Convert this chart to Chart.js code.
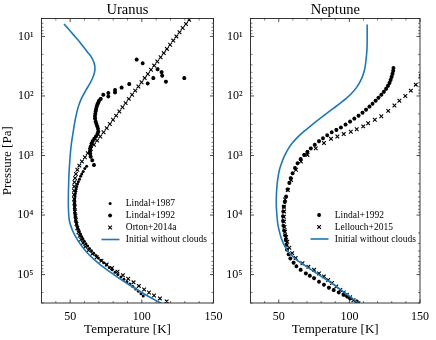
<!DOCTYPE html>
<html><head><meta charset="utf-8">
<script src="https://cdn.jsdelivr.net/npm/chart.js@4.4.0/dist/chart.umd.min.js"></script>
<style>
html,body{margin:0;padding:0;background:#fff;}
#wrap{position:relative;width:436px;height:340px;overflow:hidden;background:#fff;}
#c1{position:absolute;left:0;top:0;}
#c2{position:absolute;left:218px;top:0;}
</style></head><body>
<div id="wrap"><canvas id="c1" width="250" height="340"></canvas><canvas id="c2" width="218" height="340"></canvas></div>
<script>
// ---------- data (Temperature [K], Pressure [Pa]) ----------
const uranusModelT = [45.7,49.0,52.2,55.8,59.1,62.0,64.6,66.6,67.3,66.9,65.8,64.0,60.8,57.9,55.7,54.2,53.0,52.0,51.1,50.4,49.7,49.2,48.8,48.8,49.5,51.5,53.5,56.0,59.0,62.5,66.8,71.8,77.5,83.5,89.8,96.5,103.5,111.0,115.0];
const uranusModelP = [6.17,7.59,9.33,11.7,14.8,18.2,21.9,27.5,33.9,40.7,49,60.3,81.3,110,151,209,295,417,575,794,1259,1995,3981,7943,12589,17783,22387,28184,35481,44668,56234,70795,89125,112202,141254,177828,223872,281838,316228];

const uranusLindal87T = [61.5,60.2,59.1,58.1,57.3,56.5,55.7,55.1,54.6,54.2,53.9,53.6,53.4,53.2,53.1,53.0,53.0,53.0,53.1,53.2,53.4,53.6,53.9,54.2,54.6,55.1,55.7,56.4,57.2,58.0,58.9,59.9,61.0,62.2,63.5,64.9,66.4,68.0,69.7,71.5,73.4,75.3,77.3,79.3,81.3,83.3,85.4,87.5,89.6,91.7,93.7,95.7,97.6,99.4,101.0];
const uranusLindal87P = [1514,1660,1862,2042,2239,2512,2754,3020,3311,3631,3981,4365,4786,5248,5754,6310,6918,7586,8318,9120,10000,10965,12023,13183,14454,15849,17378,19055,20893,22909,25119,27542,30200,33113,36308,39811,43652,47863,52481,57544,63096,69183,75858,83176,91201,100000,109648,120226,131826,144544,158489,173780,190546,208930,229087];

const uranusLindal92T = [96.4,100.6,111.0,113.8,114.2,108.0,129.6,116.8,104.1,91.2,85.9,81.3,81.3,76.6,76.6,73.1,71.3,70.2,69.6,69.0,68.5,68.1,67.8,67.5,67.3,67.4,67.8,68.3,68.9,69.4,69.6,69.0,68.0,66.8,65.7,64.9,64.3,63.9,63.8,64.0,64.3,65.4,66.6];
const uranusLindal92P = [24.5,28.2,35.5,39.8,45.7,50.1,50.1,57.5,61.7,63.1,72.4,79.4,87.1,89.1,102,95.5,112,120,129,138,151,166,182,200,219,240,269,295,324,355,398,437,479,525,575,631,708,776,851,933,1047,1202,1445];

const uranusOrtonT = [133.0,130.8,128.5,126.3,124.1,121.9,119.7,117.5,115.3,113.1,110.8,108.6,106.4,104.2,102.0,99.8,97.6,95.4,93.2,90.9,88.7,86.5,84.3,82.1,79.9,77.7,75.5,73.3,71.0,68.8,66.6,64.4,62.3,60.3,58.2,56.4,55.0,54.0,53.4,53.0,52.8,52.7,52.7,52.8,53.0,53.2,53.4,53.7,54.0,54.4,55.0,55.8,56.6,57.6,58.9,60.5,62.8,65.5,68.5,71.8,75.5,79.2,83.0,86.8,90.5,94.2,97.9,101.6,105.0,108.5,112.6,117.3];
const uranusOrtonP = [5.25,6.17,7.24,8.51,10,11.75,13.8,16.2,19.05,22.4,26.3,30.9,36.3,42.7,50.1,58.9,69.2,81.3,95.5,112,132,155,182,214,251,295,347,407,479,562,661,776,912,1072,1259,1479,1738,2042,2399,2818,3311,3890,4571,5370,6310,7413,8710,10233,12023,14125,16596,19498,22387,25704,29512,33884,38905,44668,51286,58884,67608,77625,89125,102329,117490,134896,154882,177828,199526,223872,251189,281838];

const neptuneModelT = [112.6,112.6,112.5,112.0,111.0,109.6,107.6,105.0,101.8,97.8,93.6,88.6,83.0,77.0,72.2,67.6,63.4,59.6,56.4,53.8,52.0,50.5,49.4,48.7,48.3,48.3,48.7,49.4,50.5,51.8,53.8,56.4,61.5,68.0,75.0,82.0,89.0,95.9,101.0,106.4];
const neptuneModelP = [6.31,10,15.5,22.4,33.9,44.7,57.5,72.4,89.1,110,132,162,204,263,324,398,490,617,794,1047,1349,1738,2399,3311,5012,7244,10000,14454,19055,24547,31623,40738,53703,69183,89125,114815,147911,194984,239883,301995];

const neptuneLindal92T = [131.2,131.0,130.5,129.9,129.2,128.4,127.3,126.0,124.4,122.6,120.6,118.6,116.4,114.2,111.8,109.3,106.5,103.5,100.5,97.3,94.0,90.8,87.5,84.3,81.3,78.5,75.5,72.7,70.3,68.0,65.5,63.3,61.5,59.8,58.5,57.5,56.3,55.2,54.3,53.6,53.2,53.0,53.0,53.3,53.8,54.5,55.0,55.4,55.8,57.0,58.2,60.5,62.5,65.5,69.2,72.0,75.0,78.5,82.0,85.5,88.9,92.5,95.9,98.5,100.6,105.2];
const neptuneLindal92P = [33.9,38.0,42.7,47.9,53.7,60.3,67.6,75.9,85.1,95.5,107,120,135,151,170,191,214,240,269,302,339,372,407,457,513,575,661,759,871,977,1148,1349,1622,1995,2399,2884,3715,4898,6026,7244,8710,10471,12589,15136,18197,21878,26303,31623,38019,45709,53703,63096,72444,83176,95499,104713,114815,131826,147911,165959,181970,199526,218776,234423,251189,281838];

const neptuneLellouchT = [150.5,147.0,143.5,139.6,135.4,131.9,127.5,122.6,118.0,113.3,109.8,105.2,101.0,96.0,91.5,87.0,82.0,76.2,70.3,65.7,62.2,58.7,56.4,54.5,53.6,53.8,53.6,53.7,54.1,54.5,55.2,56.0,57.5,59.5,62.0,66.8,71.0,75.0,78.5,82.0,85.0,87.7,90.7,93.6,96.0,98.2,100.5,102.9,106.4];
const neptuneLellouchP = [46.8,64.6,81.3,100,120,145,178,219,251,288,324,363,398,437,479,525,617,759,977,1259,1738,2570,3802,5495,7244,8710,10715,12882,15849,19055,23442,28184,35481,43652,52481,64565,74131,83176,95499,107152,123027,138038,158489,181970,199526,218776,239883,269153,301995];

const xTicks = [50, 100, 150];
const xTickLabels = ['50', '100', '150'];
const yTicks = [10, 100, 1000, 10000, 100000];
const yTickLabels = ['10¹', '10²', '10³', '10⁴', '10⁵'];
const titles = ['Uranus', 'Neptune'];
const xTitle = 'Temperature [K]';
const yTitle = 'Pressure [Pa]';
const uranusLabels = ['Lindal+1987', 'Lindal+1992', 'Orton+2014a', 'Initial without clouds'];
const neptuneLabels = ['Lindal+1992', 'Lellouch+2015', 'Initial without clouds'];

// ---------- rendering ----------
const FONT = "'Liberation Serif', 'DejaVu Serif', serif";
Chart.defaults.font.family = FONT;
Chart.defaults.color = '#000';

function pts(T, P) { return T.map((t, i) => ({x: t, y: P[i]})); }

const STY = {
  line:  {showLine: true, pointRadius: 0, borderColor: '#1f77b4', borderWidth: 1.6, tension: 0.35, fill: false},
  dots:  {showLine: false, pointStyle: 'circle', pointRadius: 1.5, pointBackgroundColor: '#000', backgroundColor: '#000', pointBorderWidth: 0, borderColor: '#000'},
  stars: {showLine: false, pointStyle: 'star', pointRadius: 2.0, pointBorderColor: '#000', borderColor: '#000', pointBorderWidth: 1.2},
  cross: {showLine: false, pointStyle: 'crossRot', pointRadius: 2.6, pointBorderColor: '#000', borderColor: '#000', pointBorderWidth: 1.1}
};

const framePlugin = {
  id: 'frame',
  afterDraw(chart) {
    const {ctx, chartArea: a, scales: {x, y}} = chart;
    ctx.save();
    ctx.strokeStyle = '#222';
    ctx.lineWidth = 0.9;
    ctx.strokeRect(a.left, a.top, a.right - a.left, a.bottom - a.top);
    const tick = (len, vals, scale, horiz) => {
      ctx.beginPath();
      vals.forEach(v => {
        const p = scale.getPixelForValue(v);
        if (horiz) {
          ctx.moveTo(p, a.bottom); ctx.lineTo(p, a.bottom - len);
          ctx.moveTo(p, a.top); ctx.lineTo(p, a.top + len);
        } else {
          ctx.moveTo(a.left, p); ctx.lineTo(a.left + len, p);
          ctx.moveTo(a.right, p); ctx.lineTo(a.right - len, p);
        }
      });
      ctx.stroke();
    };
    const xMinor = [];
    for (let v = 40; v < 150; v += 10) if (!xTicks.includes(v)) xMinor.push(v);
    const yMinor = [];
    for (let e = 0; e <= 5; e++) for (let m = 2; m <= 9; m++) {
      const v = m * Math.pow(10, e);
      if (v >= y.min && v <= y.max) yMinor.push(v);
    }
    ctx.lineWidth = 0.8;
    tick(3.5, xTicks, x, true);
    tick(3.5, yTicks, y, false);
    ctx.lineWidth = 0.6;
    tick(2, xMinor, x, true);
    tick(2, yMinor, y, false);
    ctx.restore();
  }
};

const legendPlugin = {
  id: 'plotLegend',
  afterDraw(chart, args, o) {
    if (!o || !o.items) return;
    const {ctx, chartArea: a} = chart;
    ctx.save();
    ctx.font = '9.5px ' + FONT;
    ctx.textBaseline = 'middle';
    ctx.textAlign = 'left';
    o.items.forEach((idx, i) => {
      const ds = chart.data.datasets[idx];
      const yy = a.top + o.top + i * o.gap;
      if (ds.showLine) {
        ctx.strokeStyle = ds.borderColor; ctx.lineWidth = ds.borderWidth;
        ctx.beginPath(); ctx.moveTo(a.left + o.lineX0, yy); ctx.lineTo(a.left + o.lineX1, yy); ctx.stroke();
      } else {
        ctx.fillStyle = '#000'; ctx.strokeStyle = '#000'; ctx.lineWidth = ds.pointBorderWidth || 0;
        Chart.helpers.drawPoint(ctx, {pointStyle: ds.pointStyle, radius: ds.pointRadius, rotation: 0, borderWidth: ds.pointBorderWidth || 0}, a.left + o.markerX, yy);
      }
      ctx.fillStyle = '#000';
      ctx.fillText(ds.label, a.left + o.textX, yy);
    });
    ctx.restore();
  }
};

function makeChart(el, title, datasets, legendItems, legendTop, yWidth, padRight, showYTitle) {
  return new Chart(document.getElementById(el), {
    type: 'scatter',
    data: {datasets},
    plugins: [framePlugin, legendPlugin],
    options: {
      responsive: false, animation: false, devicePixelRatio: 1,
      layout: {padding: {left: 0, right: padRight, top: 0, bottom: 0}},
      plugins: {
        legend: {display: false}, tooltip: {enabled: false},
        title: {display: true, text: title, fullSize: false, color: '#000',
                font: {family: FONT, size: 14.5, weight: 'normal', lineHeight: 1.2},
                padding: {top: 1, bottom: 0.1}},
        plotLegend: {items: legendItems, top: legendTop, gap: 12, markerX: 68.6, textX: 84.3, lineX0: 60, lineX1: 78}
      },
      scales: {
        x: {
          type: 'linear', min: 30, max: 150,
          grid: {display: false, drawTicks: false}, border: {display: false},
          afterBuildTicks: s => { s.ticks = xTicks.map(v => ({value: v})); },
          afterFit: s => { s.height = 37; },
          ticks: {autoSkip: false, maxRotation: 0, padding: 7, color: '#000',
                  font: {family: FONT, size: 12}, callback: (v, i) => xTickLabels[i]},
          title: {display: true, text: xTitle, color: '#000', font: {family: FONT, size: 13}, padding: {top: 0, bottom: 2.7}}
        },
        y: {
          type: 'logarithmic', reverse: true, min: 5, max: 3e5,
          grid: {display: false, drawTicks: false}, border: {display: false},
          afterBuildTicks: s => { s.ticks = yTicks.map(v => ({value: v})); },
          afterFit: s => { s.width = yWidth; },
          ticks: {autoSkip: false, padding: 8, color: '#000',
                  font: {family: FONT, size: 12}, callback: (v, i) => yTickLabels[i]},
          title: {display: showYTitle, text: yTitle, color: '#000', font: {family: FONT, size: 13}, padding: {top: 0, bottom: 0}}
        }
      }
    }
  });
}

makeChart('c1', titles[0], [
  Object.assign({label: uranusLabels[3], data: pts(uranusModelT, uranusModelP)}, STY.line),
  Object.assign({label: uranusLabels[0], data: pts(uranusLindal87T, uranusLindal87P)}, STY.dots),
  Object.assign({label: uranusLabels[1], data: pts(uranusLindal92T, uranusLindal92P)}, STY.stars),
  Object.assign({label: uranusLabels[2], data: pts(uranusOrtonT, uranusOrtonP)}, STY.cross)
], [1, 2, 3, 0], 185, 41.5, 36.5, true);

makeChart('c2', titles[1], [
  Object.assign({label: neptuneLabels[2], data: pts(neptuneModelT, neptuneModelP)}, STY.line),
  Object.assign({label: neptuneLabels[0], data: pts(neptuneLindal92T, neptuneLindal92P)}, STY.stars),
  Object.assign({label: neptuneLabels[1], data: pts(neptuneLellouchT, neptuneLellouchP)}, STY.cross)
], [1, 2, 0], 196.5, 32.5, 13.5, false);
</script>
</body></html>
